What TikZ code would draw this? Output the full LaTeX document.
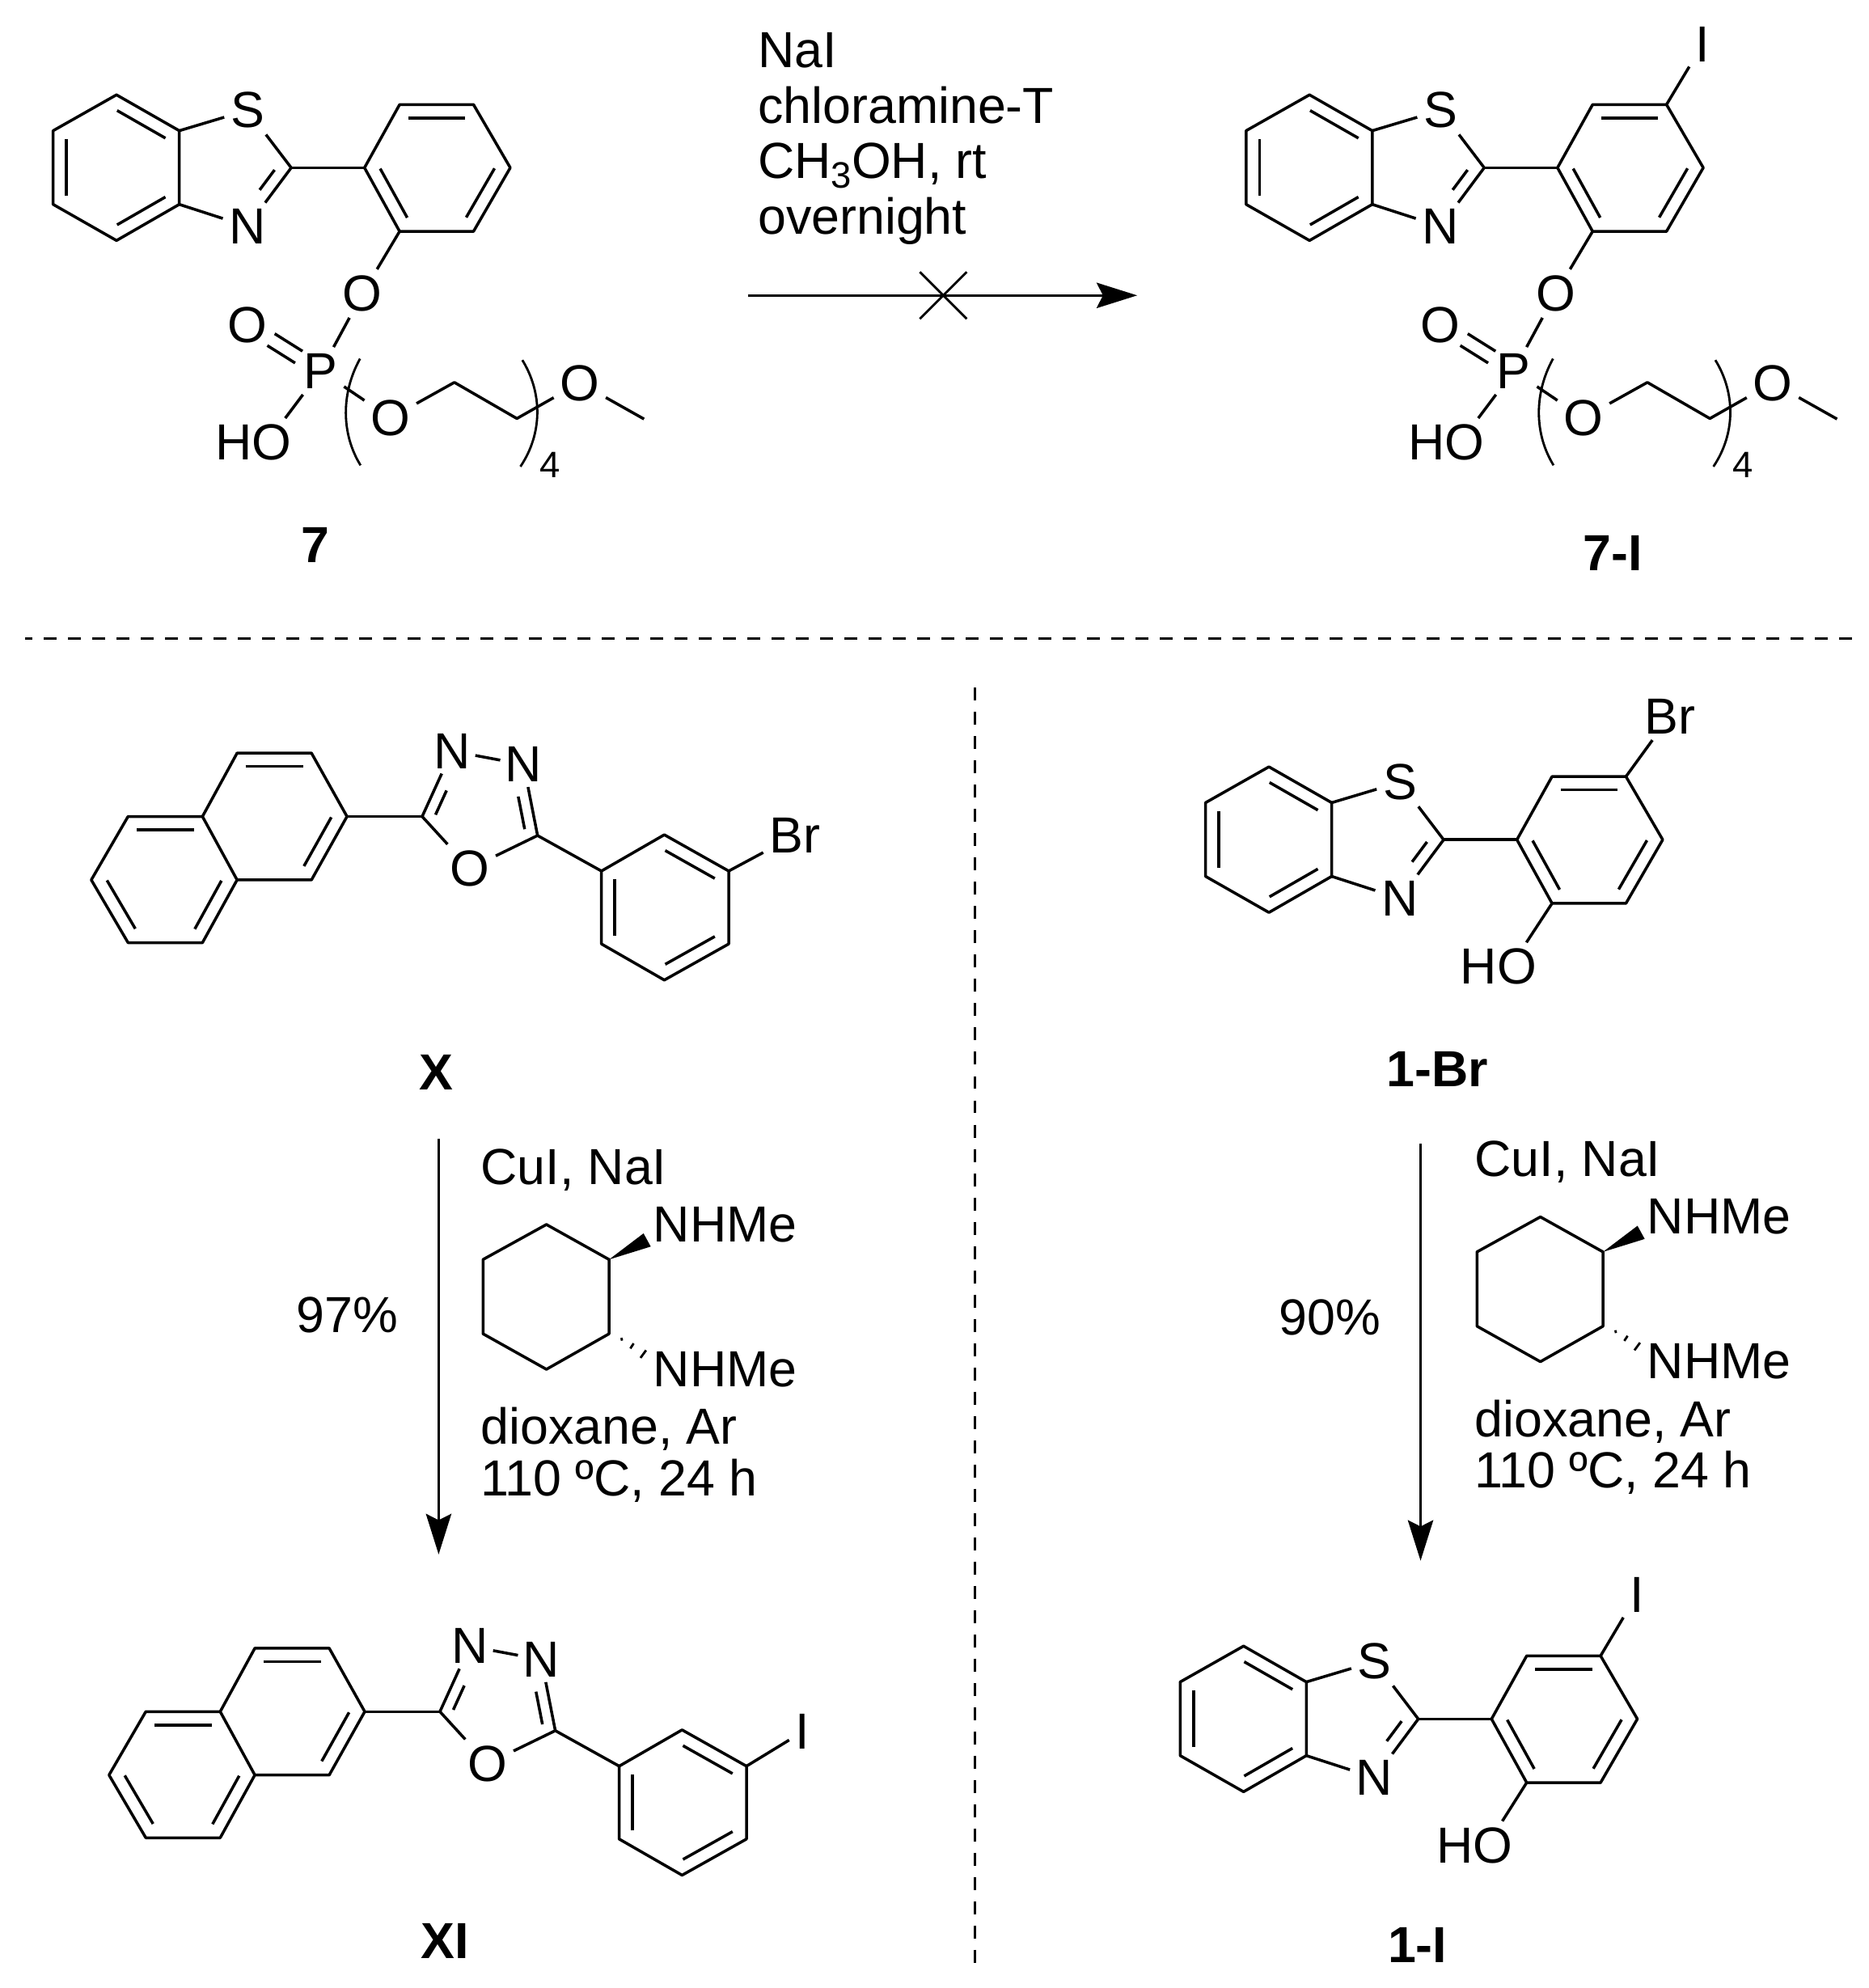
\documentclass[tikz,border=0pt]{standalone}
\usepackage{fontspec}
\setmainfont{Liberation Sans}
\usetikzlibrary{calc,arrows.meta}
\newcommand{\bigf}{\fontsize{40}{44}\selectfont}
\newcommand{\subf}{\fontsize{29}{32}\selectfont}
\tikzset{
  bond/.style={line width=2.25pt,line join=round},
  thin bond/.style={line width=1.8pt},
  atom/.style={font=\bigf,inner sep=5pt,outer sep=0pt},
  reagent/.style={font=\bigf,inner sep=0pt,anchor=base west},
  compound/.style={font=\bigf\bfseries,inner sep=0pt},
  rxn/.style={line width=1.9pt,-{Stealth[length=32pt,width=20pt,inset=5pt]}},
  sep/.style={line width=1.8pt,dash pattern=on 10.2pt off 8.94pt},
}
% inner line of a double bond; #3 = offset to the right of a->b, #4,#5 = trims
\newcommand{\dbl}[5]{\draw[bond] ($(#1)!#4!(#2)!#3pt!-90:(#2)$) -- ($(#2)!#5!(#1)!#3pt!90:(#1)$);}
\newcommand{\ind}[2]{\dbl{#1}{#2}{10.5}{.115}{.115}}
\newcommand{\btz}{%
  \coordinate (B1) at (91.9,74.8); \coordinate (B2) at (141.4,103.1);
  \coordinate (B3) at (141.4,161.2); \coordinate (B4) at (91.9,189.7);
  \coordinate (B5) at (41.9,161.2); \coordinate (B6) at (41.9,103.1);
  \node[atom] (S) at (195.2,87) {S};
  \node[atom] (N) at (195.2,178.6) {N};
  \coordinate (C2) at (229.7,132.3);
  \coordinate (P1) at (287.5,132.3); \coordinate (P2) at (315.2,82.5);
  \coordinate (P3) at (373.5,82.5); \coordinate (P4) at (402.5,132.3);
  \coordinate (P5) at (373.5,182.5); \coordinate (P6) at (315.2,182.5);
  \draw[bond] (B1)--(B2)--(B3)--(B4)--(B5)--(B6)--cycle;
  \ind{B1}{B2}\ind{B3}{B4}\ind{B5}{B6}
  \draw[bond] (B2)--(S); \draw[bond] (S)--(C2); \draw[bond] (C2)--(N); \draw[bond] (N)--(B3);
  \dbl{C2}{N}{9.5}{.16}{.5}
  \draw[bond] (C2)--(P1);
  \draw[bond] (P1)--(P2)--(P3)--(P4)--(P5)--(P6)--cycle;
  \ind{P2}{P3}\ind{P4}{P5}\ind{P6}{P1}
}
\newcommand{\phosphate}{%
  \node[atom] (Oa) at (286,231.5) {O};
  \node[atom] (Pp) at (253,292.5) {P};
  \node[atom] (Od) at (195.3,256.3) {O};
  \node[atom] (HO) at (200,349) {HO};
  \node[atom] (Ob) at (308,329.7) {O};
  \coordinate (E1) at (358.4,301.6); \coordinate (E2) at (407.7,330.1);
  \node[atom] (Oc) at (457.3,302) {O};
  \coordinate (Me) at (508,330.5);
  \draw[bond] (P6)--(Oa); \draw[bond] (Oa)--(Pp);
  \dbl{Od}{Pp}{5.5}{.32}{.3} \dbl{Od}{Pp}{-5.5}{.32}{.3}
  \draw[bond] (Pp)--($(HO.north east)+(-10,0)$);
  \draw[bond] (Pp)--(Ob); \draw[bond] (Ob)--(E1)--(E2)--(Oc); \draw[bond] (Oc)--(Me);
  \coordinate (La) at (284,282.9); \coordinate (Lb) at (284.4,367);
  \coordinate (Ra) at (412,284); \coordinate (Rb) at (410.5,368);
  \draw[thin bond] (La) .. controls (269,310) and (269,342) .. (Lb);
  \draw[thin bond] (Ra) .. controls (428,310) and (428,342) .. (Rb);
  \node[font=\subf,inner sep=0pt] (four) at (434,367) {4};
}
\newcommand{\oxad}{%
  \coordinate (a) at (187,594); \coordinate (b) at (245.7,594);
  \coordinate (c) at (273.7,644); \coordinate (d) at (245.7,694);
  \coordinate (e) at (187,694); \coordinate (f) at (159.7,644);
  \coordinate (g) at (159.7,743.5); \coordinate (h) at (101,743.5);
  \coordinate (i) at (72,694); \coordinate (j) at (101,644);
  \draw[bond] (a)--(b)--(c)--(d)--(e)--(f)--cycle;
  \draw[bond] (e)--(g)--(h)--(i)--(j)--(f);
  \ind{a}{b}\ind{c}{d}\ind{j}{f}\ind{e}{g}\ind{h}{i}
  \coordinate (C5) at (333,644); \coordinate (C6) at (424,659);
  \node[atom,inner sep=4pt] (Na) at (356.5,592.4) {N};
  \node[atom,inner sep=4pt] (Nb) at (413,603) {N};
  \node[atom] (Ox) at (370.5,685) {O};
  \draw[bond] (c)--(C5); \draw[bond] (C5)--(Na); \draw[bond] (Na)--(Nb);
  \draw[bond] (Nb)--(C6); \draw[bond] (C6)--(Ox); \draw[bond] (Ox)--(C5);
  \dbl{C5}{Na}{9}{.1}{.53} \dbl{C6}{Nb}{-9}{.12}{.42}
  \coordinate (t) at (524,658.4); \coordinate (r1) at (574.8,687);
  \coordinate (r2) at (574.8,744.5); \coordinate (u) at (524,773);
  \coordinate (l2) at (474.4,744.5); \coordinate (l1) at (474.4,687);
  \draw[bond] (C6)--(l1);
  \draw[bond] (t)--(r1)--(r2)--(u)--(l2)--(l1)--cycle;
  \ind{t}{r1}\ind{r2}{u}\ind{l2}{l1}
}
\newcommand{\conditions}{%
  \node[reagent] (cu) at (379,934) {CuI, NaI};
  \coordinate (h1) at (431,965.8); \coordinate (h2) at (480.4,993.4);
  \coordinate (h3) at (480.4,1052); \coordinate (h4) at (431,1080);
  \coordinate (h5) at (381,1052); \coordinate (h6) at (381,993.4);
  \draw[bond] (h1)--(h2)--(h3)--(h4)--(h5)--(h6)--cycle;
  \coordinate (wa) at (507.6,972.8); \coordinate (wb) at (513.3,983.2);
  \fill (h2)--(wa)--(wb)--cycle;
  \coordinate (ha1) at (490.2,1055.2); \coordinate (ha2) at (490.6,1057.4);
  \coordinate (hb1) at (497.2,1063.6); \coordinate (hb2) at (499.8,1059.6);
  \coordinate (hc1) at (505.2,1071); \coordinate (hc2) at (509.6,1065);
  \draw[thin bond] (ha1)--(ha2); \draw[thin bond] (hb1)--(hb2); \draw[thin bond] (hc1)--(hc2);
  \node[atom,inner sep=0pt] (nhu) at (572,965.8) {NHMe};
  \node[atom,inner sep=0pt] (nhd) at (572,1080) {NHMe};
  \node[reagent] (dx) at (379,1139) {dioxane, Ar};
  \node[reagent] (tt) at (379,1179.5) {110 ºC, 24 h};
}
\begin{document}
\begin{tikzpicture}[x=1pt,y=-1pt]
\useasboundingbox (0,0) rectangle (1474,1568);

% compound 7
\begin{scope}[name prefix=m7-]
  \btz \phosphate
\end{scope}
\node[compound] (l7) at (248.5,430) {7};

% compound 7-I
\begin{scope}[shift={(941,0)},name prefix=m7i-]
  \btz \phosphate
  \node[atom] (I) at (402,35) {I};
  \draw[bond] (P3)--(I);
\end{scope}
\node[compound] (l7i) at (1272,436) {7-I};

% top reaction
\node[reagent] (r1) at (597.7,53) {NaI};
\node[reagent] (r2) at (597.7,97) {chloramine-T};
\node[reagent] (r3) at (597.7,140.4) {CH\raisebox{-8pt}{\subf 3}OH, rt};
\node[reagent] (r4) at (597.7,184.6) {overnight};
\coordinate (a0) at (590,233); \coordinate (a1) at (897,233);
\draw[rxn] (a0) -- (a1);
\coordinate (xa) at (725.5,214.5); \coordinate (xb) at (762.5,251.5);
\coordinate (xc) at (762.5,214.5); \coordinate (xd) at (725.5,251.5);
\draw[thin bond] (xa)--(xb); \draw[thin bond] (xc)--(xd);

% separators
\coordinate (s0) at (20,503.5); \coordinate (s1) at (1462,503.5);
\coordinate (s2) at (769,542.5); \coordinate (s3) at (769,1548);
\draw[sep,dash phase=4.6pt] (s0)--(s1);
\draw[sep] (s2)--(s3);

% X
\begin{scope}[name prefix=x-]
  \oxad
  \node[atom] (Br) at (627,659) {Br};
  \draw[bond] (r1)--(Br);
\end{scope}
\node[compound] (lx) at (344,846) {X};

% XI
\begin{scope}[shift={(14,706)},name prefix=xi-]
  \oxad
  \node[atom] (I) at (619,660) {I};
  \draw[bond] (r1)--(I);
\end{scope}
\node[compound] (lxi) at (351,1531) {XI};

% left reaction
\coordinate (la0) at (346,898); \coordinate (la1) at (346,1226);
\draw[rxn] (la0)--(la1);
\node[font=\bigf,inner sep=0pt] (y97) at (274,1037) {97\%};
\begin{scope}[name prefix=cl-]
  \conditions
\end{scope}

% 1-Br
\begin{scope}[shift={(909,530)},name prefix=b-]
  \btz
  \node[atom] (Br) at (408,35) {Br};
  \node[atom] (HO) at (273,232.5) {HO};
  \draw[bond] (P3)--(Br);
  \draw[bond] (P6)--($(HO.north east)+(-13,0)$);
\end{scope}
\node[compound] (lb) at (1134,843) {1-Br};

% right reaction
\coordinate (ra0) at (1120.5,902); \coordinate (ra1) at (1120.5,1231);
\draw[rxn] (ra0)--(ra1);
\node[font=\bigf,inner sep=0pt] (y90) at (1049,1039) {90\%};
\begin{scope}[shift={(784,-6)},name prefix=cr-]
  \conditions
\end{scope}

% 1-I
\begin{scope}[shift={(889,1223.5)},name prefix=i-]
  \btz
  \node[atom] (I) at (402,34.5) {I};
  \node[atom] (HO) at (274,232) {HO};
  \draw[bond] (P3)--(I);
  \draw[bond] (P6)--($(HO.north east)+(-13,0)$);
\end{scope}
\node[compound] (li) at (1118,1534) {1-I};
\end{tikzpicture}
\end{document}
